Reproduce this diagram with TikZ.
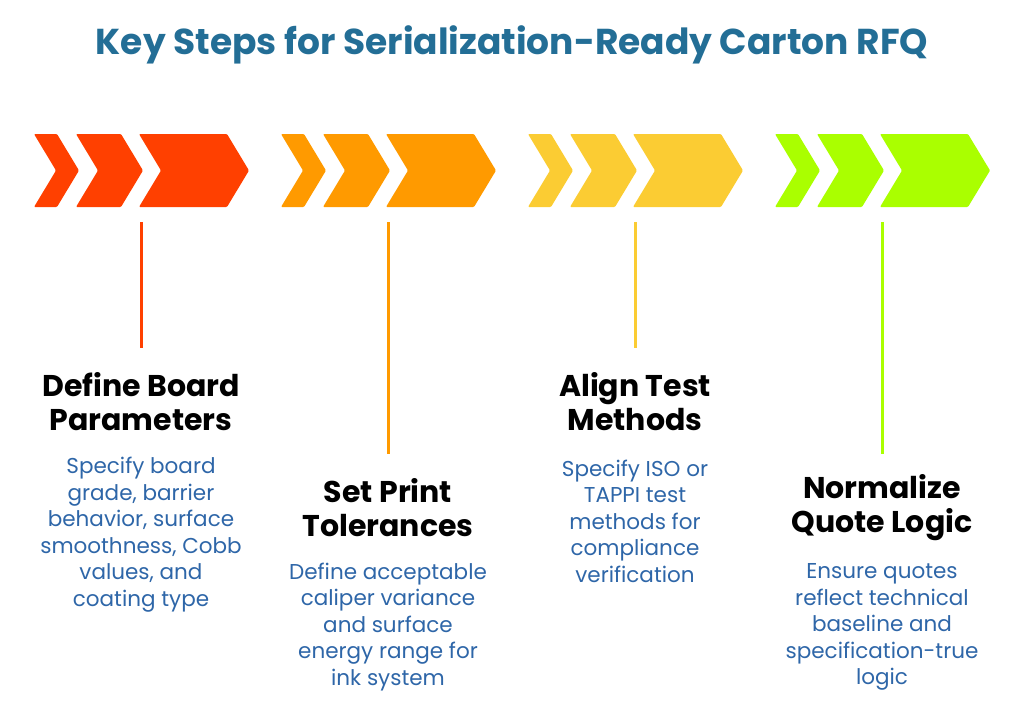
\documentclass[tikz,border=0pt]{standalone}
\usepackage{fontspec}
\setmainfont{Poppins}
\usepackage{xcolor}
\usetikzlibrary{positioning}
\definecolor{stepA}{HTML}{FF4000}
\definecolor{stepB}{HTML}{FF9A00}
\definecolor{stepC}{HTML}{FBCC33}
\definecolor{stepD}{HTML}{AAFF00}
\definecolor{titleblue}{HTML}{236E96}
\definecolor{textblue}{HTML}{2E66A8}

\begin{document}
\begin{tikzpicture}[x=1pt, y=-1pt,
        heading/.style={align=center, inner sep=0pt, font=\fontsize{30}{34.5}\selectfont\bfseries},
        body/.style={align=center, inner sep=0pt, text=textblue, font=\fontsize{21.5}{26.5}\selectfont},
        stem/.style={line width=3pt}]
        \useasboundingbox (0,0) rectangle (1024,717);

        % Title
        \node[text=titleblue, font=\fontsize{36}{40}\selectfont\bfseries] (title) at (512,45) {Key Steps for Serialization-Ready Carton RFQ};

        % Chevrons
        \foreach \gx/\col in {34/stepA, 281/stepB, 528/stepC, 775/stepD} {
            \foreach \cx/\cw in {0/23, 42/45, 105/88} {
                \fill[\col, rounded corners=1pt] (\gx+\cx,134) -- ++(\cw,0) -- ++(22,36.5) -- ++(-22,36.5) -- ++(-\cw,0) -- ++(22,-36.5) -- cycle;
            }
        }

        % Nodes
        \node[heading] (h1) at (141,401.5) {Define Board\\Parameters};
        \node[heading] (h2) at (388,507.5) {Set Print\\Tolerances};
        \node[heading] (h3) at (635,401.5) {Align Test\\Methods};
        \node[heading] (h4) at (882,507.5) {Normalize\\Quote Logic};

        \node[body] (b1) at (141,534.5) {Specify board\\grade, barrier\\behavior, surface\\smoothness, Cobb\\values, and\\coating type};
        \node[body] (b2) at (388,627) {Define acceptable\\caliper variance\\and surface\\energy range for\\ink system};
        \node[body] (b3) at (635,521) {Specify ISO or\\TAPPI test\\methods for\\compliance\\verification};
        \node[body] (b4) at (882,627) {Ensure quotes\\reflect technical\\baseline and\\specification-true\\logic};

        \coordinate (s1a) at (141,222);
        \coordinate (s1b) at (141,348);
        \coordinate (s2a) at (388,222);
        \coordinate (s2b) at (388,454);
        \coordinate (s3a) at (635,222);
        \coordinate (s3b) at (635,348);
        \coordinate (s4a) at (882,222);
        \coordinate (s4b) at (882,454);

        % Edges
        \draw[stem, stepA] (s1a) -- (s1b);
        \draw[stem, stepB] (s2a) -- (s2b);
        \draw[stem, stepC] (s3a) -- (s3b);
        \draw[stem, stepD] (s4a) -- (s4b);
\end{tikzpicture}
\end{document}
